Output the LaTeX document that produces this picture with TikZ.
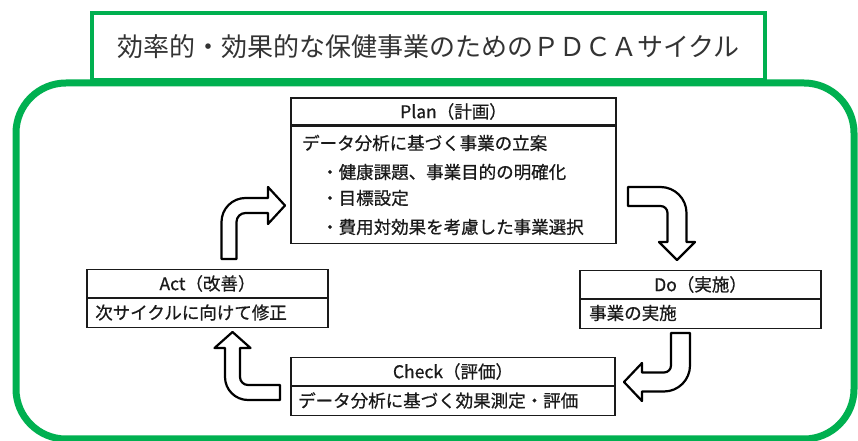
\documentclass[tikz,border=0pt]{standalone}
\usepackage{fontspec}
\newfontfamily\jp{Noto Sans CJK JP}
\newfontfamily\jpb{Noto Sans CJK JP}[FakeBold=0.7]
\definecolor{pgreen}{HTML}{00B050}
\definecolor{ink}{HTML}{1A1A1A}
\begin{document}
\begin{tikzpicture}[x=1pt,y=1pt,
  hdr/.style={draw=ink, line width=1.3pt, minimum height=28pt, inner sep=0pt, font=\jpb\fontsize{17.5}{20}\selectfont, text=ink},
  bodybox/.style={draw=ink, line width=1.3pt, inner sep=0pt},
  txt/.style={anchor=west, inner sep=0pt, font=\jpb\fontsize{17.5}{20}\selectfont, text=ink},
  blockarrow/.style={draw=black, line width=2.2pt, fill=white, line join=round}]

\useasboundingbox (0,0) rectangle (858,441);
\fill[white] (0,0) rectangle (858,441);

% outer green frame and title
\draw[pgreen, line width=7pt, rounded corners=50pt] (16,2) rectangle (854,358);
\node[draw=pgreen, line width=4pt, fill=white, minimum width=673pt, minimum height=67pt, inner sep=0pt,
      font=\jp\fontsize{26}{30}\selectfont, text=black!80] (title) at (428.5,394.5)
      {効率的・効果的な保健事業のためのＰＤＣＡサイクル};

% Plan
\node[hdr, minimum width=325pt, minimum height=27pt] (planH) at (453.5,329.5) {Plan（計画）};
\node[bodybox, minimum width=325pt, minimum height=117pt, anchor=north] (planB) at (planH.south) {};
\node[txt] (p1) at (302,298) {データ分析に基づく事業の立案};
\node[txt] (p2) at (321,269) {・健康課題、事業目的の明確化};
\node[txt] (p3) at (321,243) {・目標設定};
\node[txt] (p4) at (321,214) {・費用対効果を考慮した事業選択};

% Act
\node[hdr, minimum width=241pt] (actH) at (207.5,157.5) {Act（改善）};
\node[bodybox, minimum width=241pt, minimum height=29pt, anchor=north] (actB) at (actH.south) {};
\node[txt] (a1) at (95,128.5) {次サイクルに向けて修正};

% Do
\node[hdr, minimum width=241pt] (doH) at (700.5,156.5) {Do（実施）};
\node[bodybox, minimum width=241pt, minimum height=29pt, anchor=north] (doB) at (doH.south) {};
\node[txt] (d1) at (589,128) {事業の実施};

% Check
\node[hdr, minimum width=324pt] (checkH) at (453,69.5) {Check（評価）};
\node[bodybox, minimum width=324pt, minimum height=29pt, anchor=north] (checkB) at (checkH.south) {};
\node[txt] (c1) at (298,40.5) {データ分析に基づく効果測定・評価};

% Act -> Plan
\draw[blockarrow] (221.5,182) -- (221.5,219) arc[start angle=180,end angle=90,radius=24]
  -- (268,243) -- (268,254) -- (285,235.5) -- (268,217) -- (268,228) -- (245.5,228)
  arc[start angle=90,end angle=180,radius=9] -- (236.5,182) -- cycle;

% Plan -> Do
\draw[blockarrow] (628,254) -- (660.5,254) arc[start angle=90,end angle=0,radius=26]
  -- (686.5,199) -- (695,199) -- (677,181) -- (659,199) -- (667.5,199) -- (667.5,228)
  arc[start angle=0,end angle=90,radius=7] -- (628,235) -- cycle;

% Do -> Check
\draw[blockarrow] (671,108) -- (690,108) -- (690,75.5) arc[start angle=0,end angle=-90,radius=26]
  -- (642,49.5) -- (642,40) -- (624,59) -- (642,78) -- (642,68.5) -- (664,68.5)
  arc[start angle=-90,end angle=0,radius=7] -- cycle;

% Check -> Act
\draw[blockarrow] (280,56) -- (248,56) arc[start angle=270,end angle=180,radius=8]
  -- (240,93) -- (250.5,93) -- (232.5,109) -- (214.5,93) -- (225,93) -- (225,64)
  arc[start angle=180,end angle=270,radius=23] -- (280,41) -- cycle;
\end{tikzpicture}
\end{document}
